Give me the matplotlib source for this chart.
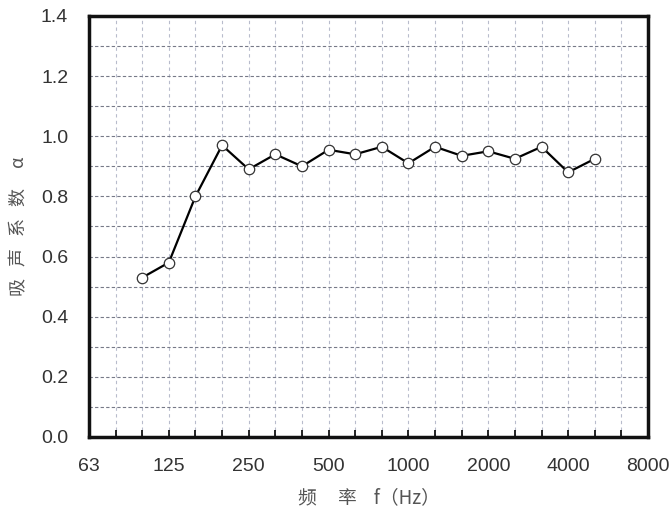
import matplotlib
matplotlib.use("Agg")
import matplotlib.pyplot as plt

# 1/3 octave bands from 63 Hz to 8000 Hz, plotted on band index
bands = [63, 80, 100, 125, 160, 200, 250, 315, 400, 500, 630, 800,
         1000, 1250, 1600, 2000, 2500, 3150, 4000, 5000, 6300, 8000]
freqs = [100, 125, 160, 200, 250, 315, 400, 500, 630, 800,
         1000, 1250, 1600, 2000, 2500, 3150, 4000, 5000]
alpha = [0.53, 0.58, 0.80, 0.97, 0.89, 0.94, 0.90, 0.955, 0.94, 0.965,
         0.91, 0.965, 0.935, 0.95, 0.925, 0.965, 0.88, 0.925]
tick_labels = ['63', '125', '250', '500', '1000', '2000', '4000', '8000']

plt.rcParams['font.family'] = ['Liberation Sans', 'Noto Sans CJK SC']

fig = plt.figure(figsize=(6.72, 5.15), dpi=100)
ax = fig.add_axes([0.1324, 0.1515, 0.8319, 0.8175])

xs = [bands.index(f) for f in freqs]
ax.plot(xs, alpha, color='black', lw=1.6, marker='o', ms=7.5,
        mfc='white', mec='#333333', mew=0.9, zorder=3)

ax.set_xlim(0, len(bands) - 1)
ax.set_ylim(0, 1.4)

ax.set_xticks(range(len(bands)))
ax.set_xticklabels([str(b) if str(b) in tick_labels else '' for b in bands])
ax.set_yticks([i * 0.2 for i in range(8)])
ax.set_yticklabels(['%.1f' % (i * 0.2) for i in range(8)])
ax.set_yticks([i * 0.1 for i in range(15)], minor=True)

ax.tick_params(axis='x', direction='in', length=5, width=1.2, pad=15,
               labelsize=14, labelcolor='#333333')
ax.tick_params(axis='y', length=0, pad=15, labelsize=14, labelcolor='#333333')
ax.tick_params(axis='y', which='minor', length=0)

ax.grid(True, axis='x', which='major', color='#b8bccc', ls=(0, (3, 3)), lw=0.8)
ax.grid(True, axis='y', which='both', color='#777a88', ls=(0, (3, 2)), lw=0.8)
ax.set_axisbelow(True)

for s in ax.spines.values():
    s.set_linewidth(2.5)
    s.set_color('#111111')

ax.set_ylabel(u'吸   声   系   数     α', fontsize=13, color='#555555',
              family=['Noto Sans CJK SC', 'DejaVu Sans'])
ax.yaxis.set_label_coords(-0.108, 0.50)
ax.set_xlabel(u'频     率    f（Hz）', fontsize=13.5, color='#555555',
              family=['Noto Sans CJK SC', 'DejaVu Sans'])
ax.xaxis.set_label_coords(0.5, -0.12)

fig.savefig('out.png', dpi=100)
